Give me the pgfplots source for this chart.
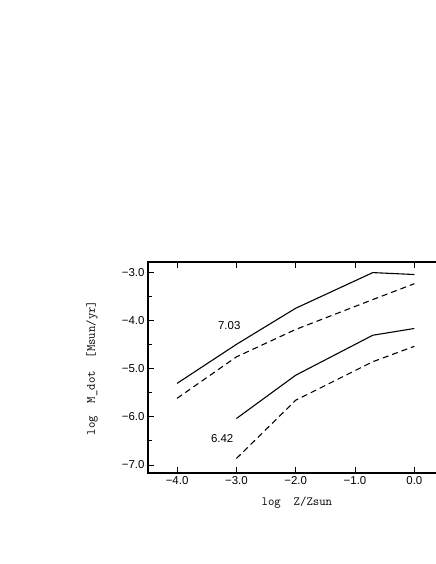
\documentclass[border=0pt]{standalone}
\usepackage{pgfplots}
\pgfplotsset{compat=1.18}
\usepackage{fontspec}
\setmainfont{Liberation Sans}
\begin{document}
\begin{tikzpicture}[x=1bp,y=1bp]
\begin{axis}[
  at={(148bp,91bp)}, anchor=south west,
  scale only axis, width=296bp, height=211bp,
  xmin=-4.49, xmax=0.5, ymin=-7.17, ymax=-2.79,
  xtick={-4,-3,-2,-1,0},
  xticklabels={\char"2212 4.0,\char"2212 3.0,\char"2212 2.0,\char"2212 1.0,0.0},
  ytick={-7,-6,-5,-4,-3},
  yticklabels={\char"2212 7.0,\char"2212 6.0,\char"2212 5.0,\char"2212 4.0,\char"2212 3.0},
  minor ytick={-6.5,-5.5,-4.5,-3.5},
  ticklabel style={font=\fontsize{11.5}{13}\selectfont},
  tick align=inside,
  major tick length=6bp, minor tick length=3.5bp,
  tick style={black, line width=0.6pt},
  axis line style={line width=1.1pt},
  xlabel={log\ \ Z/Zsun},
  ylabel={log\ \ M\_dot\ \ [Msun/yr]},
  label style={font=\ttfamily\fontsize{12.5}{13}\selectfont},
  xlabel style={at={(axis description cs:0.503,-0.142)}, anchor=center},
  ylabel style={at={(axis description cs:-0.189,0.498)}, anchor=center, rotate=0},
  clip=false,
]
\addplot[black, solid, no markers, line width=1.1pt] coordinates {(-4,-5.31) (-3,-4.50) (-2,-3.75) (-0.7,-3.01) (0,-3.05)};
\addplot[black, no markers, line width=1.1pt, dash pattern=on 6bp off 4bp] coordinates {(-4,-5.62) (-3,-4.76) (-2,-4.19) (-0.7,-3.57) (0,-3.24)};
\addplot[black, solid, no markers, line width=1.1pt] coordinates {(-3,-6.04) (-2,-5.14) (-0.7,-4.31) (0,-4.17)};
\addplot[black, no markers, line width=1.1pt, dash pattern=on 6bp off 4bp] coordinates {(-3,-6.87) (-2,-5.66) (-0.7,-4.86) (0,-4.54)};
\node[font=\fontsize{11.5}{13}\selectfont] at (axis cs:-3.12,-4.10) {7.03};
\node[font=\fontsize{11.5}{13}\selectfont] at (axis cs:-3.24,-6.46) {6.42};
\end{axis}
\pgfresetboundingbox
\useasboundingbox (0,0) rectangle (436bp,564bp);
\end{tikzpicture}
\end{document}
